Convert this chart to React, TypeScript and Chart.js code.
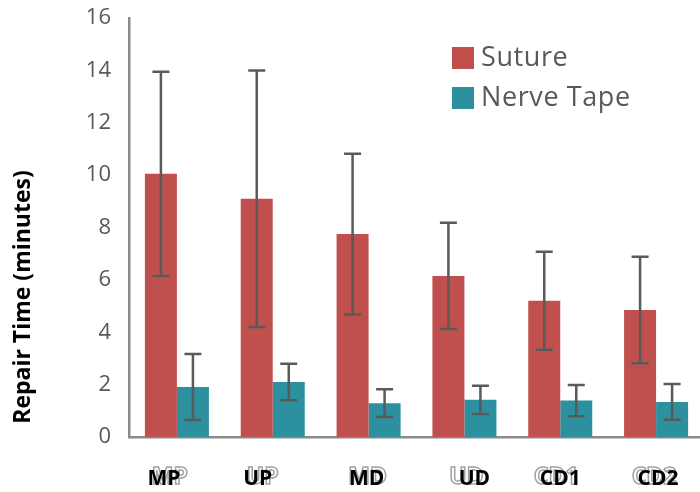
import React, { useEffect, useRef } from "react";
import { Chart, registerables } from "chart.js";

Chart.register(...registerables);

const categories = ["MP", "UP", "MD", "UD", "CD1", "CD2"];
const sutureMeans = [10.05, 9.1, 7.75, 6.15, 5.2, 4.85];
const sutureErrors = [3.9, 4.9, 3.07, 2.03, 1.87, 2.03];
const tapeMeans = [1.91, 2.1, 1.29, 1.42, 1.39, 1.34];
const tapeErrors = [1.26, 0.7, 0.53, 0.54, 0.6, 0.68];
const yTicks = [0, 2, 4, 6, 8, 10, 12, 14, 16];
const seriesNames = ["Suture", "Nerve Tape"];
const yTitle = "Repair Time (minutes)";

const RED = "#c0504d";
const TEAL = "#2c909f";
const FONT = "'Open Sans', 'DejaVu Sans', sans-serif";
// label styling shifts (px)
const LABEL_SHIFT = [-13, -15, -2, 10, 0, 2];
const GHOST_SHIFT = [6, 5, 1, -8, -4, -4];

const errorBarPlugin = {
  id: "errorBars",
  afterDatasetsDraw(chart: any) {
    const { ctx } = chart;
    const yScale = chart.scales.y;
    const errs = [sutureErrors, tapeErrors];
    chart.data.datasets.forEach((ds: any, di: number) => {
      const meta = chart.getDatasetMeta(di);
      meta.data.forEach((bar: any, i: number) => {
        const v = ds.data[i];
        const e = errs[di][i];
        const yt = yScale.getPixelForValue(v + e);
        const yb = yScale.getPixelForValue(v - e);
        const x = bar.x;
        ctx.save();
        ctx.strokeStyle = "#5a5a5a";
        ctx.lineWidth = 2.5;
        ctx.beginPath();
        ctx.moveTo(x, yt);
        ctx.lineTo(x, yb);
        ctx.moveTo(x - 8.5, yt);
        ctx.lineTo(x + 8.5, yt);
        ctx.moveTo(x - 8.5, yb);
        ctx.lineTo(x + 8.5, yb);
        ctx.stroke();
        ctx.restore();
      });
    });
  },
};

const textPlugin = {
  id: "texts",
  afterDraw(chart: any) {
    const { ctx } = chart;
    const xs = chart.scales.x;
    const y = 479;
    categories.forEach((lab, i) => {
      const x = xs.getPixelForValue(i) + LABEL_SHIFT[i];
      ctx.save();
      ctx.textAlign = "center";
      ctx.textBaseline = "middle";
      ctx.font = `bold 23px ${FONT}`;
      ctx.strokeStyle = "#a2a2a2";
      ctx.lineWidth = 1.5;
      ctx.strokeText(lab, x + GHOST_SHIFT[i], y - 2);
      ctx.font = `bold 21px ${FONT}`;
      ctx.fillStyle = "#000000";
      ctx.fillText(lab, x, y);
      ctx.restore();
    });

    // y title
    ctx.save();
    ctx.translate(23, 297);
    ctx.rotate(-Math.PI / 2);
    ctx.textAlign = "center";
    ctx.textBaseline = "middle";
    ctx.fillStyle = "#000000";
    ctx.font = `bold 23px ${FONT}`;
    ctx.fillText(yTitle, 0, 0);
    ctx.restore();

    // legend
    const colors = [RED, TEAL];
    seriesNames.forEach((name, i) => {
      const bx = 452;
      const by = 47 + i * 40;
      ctx.save();
      ctx.fillStyle = colors[i];
      ctx.fillRect(bx, by, 22, 22);
      ctx.fillStyle = "#595959";
      ctx.font = `27px ${FONT}`;
      (ctx as any).letterSpacing = "0.6px";
      ctx.textAlign = "left";
      ctx.textBaseline = "middle";
      ctx.fillText(name, bx + 29, by + 11);
      ctx.restore();
    });
  },
};

export default function App() {
  const ref = useRef<HTMLCanvasElement>(null);
  useEffect(() => {
    if (!ref.current) return;
    const chart = new Chart(ref.current, {
      type: "bar",
      data: {
        labels: categories,
        datasets: [
          {
            label: seriesNames[0],
            data: sutureMeans,
            backgroundColor: RED,
            categoryPercentage: 0.668,
            barPercentage: 1.0,
          },
          {
            label: seriesNames[1],
            data: tapeMeans,
            backgroundColor: TEAL,
            categoryPercentage: 0.668,
            barPercentage: 1.0,
          },
        ],
      },
      options: {
        animation: false,
        responsive: false,
        maintainAspectRatio: false,
        layout: { padding: { top: 18, right: 8, left: 0, bottom: 0 } },
        plugins: { legend: { display: false }, tooltip: { enabled: false } },
        scales: {
          x: {
            grid: { display: false, drawTicks: false },
            border: { display: true, color: "#8a8a8a", width: 2.5 },
            ticks: { display: false },
            afterFit: (s: any) => {
              s.height = 55;
            },
          },
          y: {
            min: 0,
            max: 16,
            afterBuildTicks: (s: any) => {
              s.ticks = yTicks.map((v) => ({ value: v }));
            },
            grid: { display: false, drawTicks: false },
            border: { display: true, color: "#8a8a8a", width: 2.5 },
            ticks: {
              color: "#595959",
              font: { family: FONT, size: 22 },
              padding: 18,
            },
            afterFit: (s: any) => {
              s.width = 129;
              s.paddingTop = 0;
              s.paddingBottom = 0;
            },
          },
        },
      },
      plugins: [errorBarPlugin, textPlugin],
    });
    return () => chart.destroy();
  }, []);
  return (
    <div
      style={{
        position: "fixed",
        left: 0,
        top: 0,
        width: 700,
        height: 492,
        overflow: "hidden",
        background: "#fff",
      }}
    >
      <canvas ref={ref} width={712} height={492} style={{ display: "block" }} />
    </div>
  );
}
